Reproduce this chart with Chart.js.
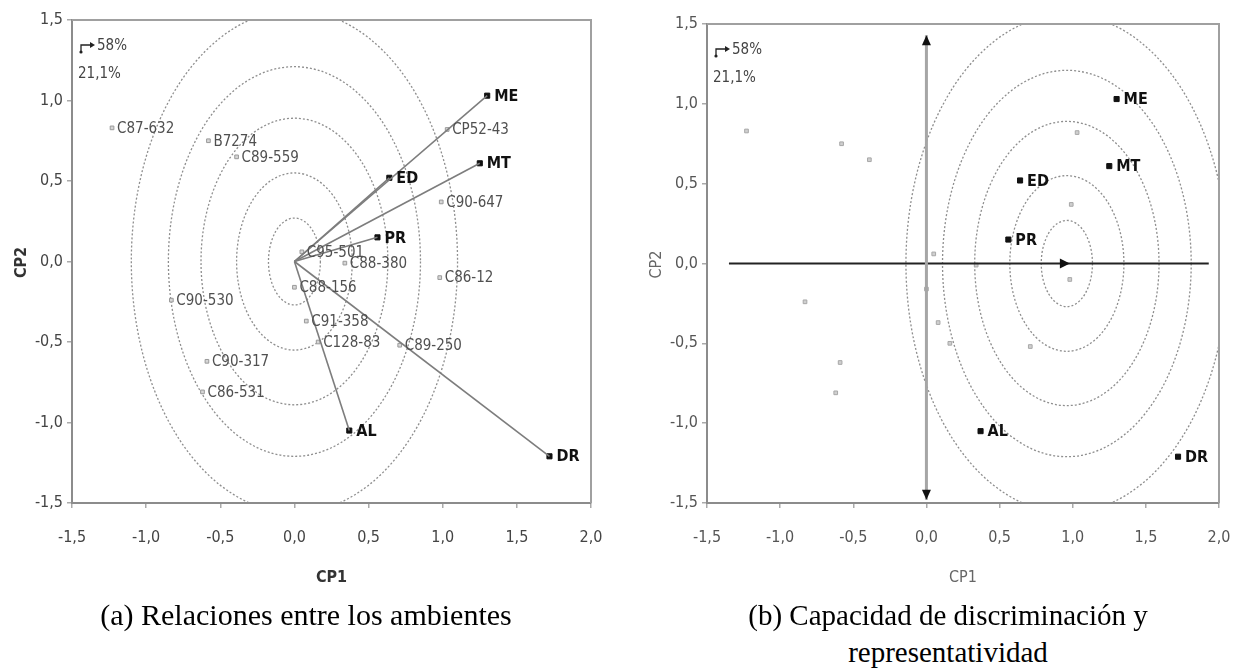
<!DOCTYPE html>
<html>
<head>
<meta charset="utf-8">
<script src="https://cdn.jsdelivr.net/npm/chart.js@4.4.1/dist/chart.umd.min.js"></script>
<style>
  body { margin:0; background:#fff; width:1233px; height:668px; overflow:hidden; position:relative; }
  .panel { position:absolute; top:0; height:600px; }
  #pa { left:0; width:616px; }
  #pb { left:616px; width:617px; }
  .cap { position:absolute; font-family:'Liberation Serif','Times New Roman',serif; font-size:29px;
         color:#000; white-space:nowrap; transform:translate(-50%,-50%); line-height:1; }
</style>
</head>
<body>
<div class="panel" id="pa"><canvas id="chartA"></canvas></div>
<div class="panel" id="pb"><canvas id="chartB"></canvas></div>
<div class="cap" style="left:306px;top:615px;font-size:30px;">(a) Relaciones entre los ambientes</div>
<div class="cap" style="left:948px;top:615px;">(b) Capacidad de discriminación y</div>
<div class="cap" style="left:948px;top:652px;">representatividad</div>
<script>
// genotypes (grey points)
const genotypes = ['C87-632','B7274','C89-559','CP52-43','C90-647','C86-12','C95-501','C88-380',
                   'C88-156','C91-358','C128-83','C89-250','C90-530','C90-317','C86-531'];
const genoX = [-1.23,-0.58,-0.39,1.03,0.99,0.98,0.05,0.34,0.00,0.08,0.16,0.71,-0.83,-0.59,-0.62];
const genoY = [0.83,0.75,0.65,0.82,0.37,-0.10,0.06,-0.01,-0.16,-0.37,-0.50,-0.52,-0.24,-0.62,-0.81];

// environments (black points)
const environments = ['ME','MT','ED','PR','AL','DR'];
const envX = [1.30,1.25,0.64,0.56,0.37,1.72];
const envY = [1.03,0.61,0.52,0.15,-1.05,-1.21];

// concentric rings (semi-axes in axis units)
const ringRX = [0.175,0.39,0.63,0.85,1.10];
const ringRY = [0.27,0.55,0.89,1.21,1.56];
const ringCenterA = [0, 0];
const ringCenterB = [0.96, 0];

// panel b: average environment axis and its perpendicular
const aeaLineX = [-1.35, 1.93];
const aeaArrowX = 0.96;
const ordLineY = [-1.48, 1.43];

const xTicks = [-1.5,-1.0,-0.5,0.0,0.5,1.0,1.5,2.0];
const yTicks = [-1.5,-1.0,-0.5,0.0,0.5,1.0,1.5];
const pctLabels = ['58%','21,1%'];

const NARROW = "'Liberation Sans Narrow','Arial Narrow','DejaVu Sans Condensed',sans-serif";
const fmt = v => v.toFixed(1).replace('.', ',');

function pts(xs, ys) {
  return xs.map((v, i) => ({x: v, y: ys[i]}));
}

function ringsPlugin(center) {
  return {
    id: 'rings',
    beforeDatasetsDraw(chart) {
      const {ctx, chartArea: a, scales: {x, y}} = chart;
      ctx.save();
      ctx.beginPath();
      ctx.rect(a.left, a.top, a.right - a.left, a.bottom - a.top);
      ctx.clip();
      ctx.strokeStyle = '#8e8e8e';
      ctx.lineWidth = 1.3;
      ctx.setLineDash([2, 2]);
      const px = x.getPixelForValue(center[0]);
      const py = y.getPixelForValue(center[1]);
      ringRX.forEach((r, i) => {
        const rx = x.getPixelForValue(center[0] + r) - px;
        const ry = py - y.getPixelForValue(center[1] + ringRY[i]);
        ctx.beginPath();
        ctx.ellipse(px, py, rx, ry, 0, 0, Math.PI * 2);
        ctx.stroke();
      });
      ctx.restore();
    }
  };
}

function decorPlugin(opt) {
  return {
    id: 'decor',
    afterDatasetsDraw(chart) {
      const {ctx, chartArea: a, scales: {x, y}} = chart;
      ctx.save();
      // top and right frame
      ctx.strokeStyle = '#a0a0a0';
      ctx.lineWidth = 2;
      ctx.beginPath();
      ctx.moveTo(a.left, a.top); ctx.lineTo(a.right, a.top); ctx.lineTo(a.right, a.bottom);
      ctx.stroke();

      ctx.textBaseline = 'middle';
      ctx.textAlign = 'left';
      if (opt.genoLabels) {
        ctx.fillStyle = '#505050';
        ctx.font = '15px ' + NARROW;
        genotypes.forEach((g, i) => {
          ctx.fillText(g, x.getPixelForValue(genoX[i]) + 5, y.getPixelForValue(genoY[i]) + 1);
        });
      }
      ctx.fillStyle = '#111';
      ctx.font = 'bold 16px ' + NARROW;
      environments.forEach((e, i) => {
        ctx.fillText(e, x.getPixelForValue(envX[i]) + 7, y.getPixelForValue(envY[i]) + 1);
      });

      // arrow heads for panel b
      if (opt.arrows) {
        ctx.fillStyle = '#111';
        const tx = x.getPixelForValue(aeaArrowX), ty = y.getPixelForValue(0);
        ctx.beginPath(); ctx.moveTo(tx + 3, ty); ctx.lineTo(tx - 7, ty - 5); ctx.lineTo(tx - 7, ty + 5); ctx.fill();
        const vx = x.getPixelForValue(0);
        const top = y.getPixelForValue(ordLineY[1]), bot = y.getPixelForValue(ordLineY[0]);
        ctx.beginPath(); ctx.moveTo(vx, top); ctx.lineTo(vx - 4.5, top + 10); ctx.lineTo(vx + 4.5, top + 10); ctx.fill();
        ctx.beginPath(); ctx.moveTo(vx, bot); ctx.lineTo(vx - 4.5, bot - 10); ctx.lineTo(vx + 4.5, bot - 10); ctx.fill();
      }

      // explained variance note
      const lx = a.left, ly = a.top;
      ctx.strokeStyle = '#222'; ctx.fillStyle = '#222'; ctx.lineWidth = 1.3;
      ctx.beginPath(); ctx.moveTo(lx + 9, ly + 32); ctx.lineTo(lx + 9, ly + 25); ctx.lineTo(lx + 19, ly + 25); ctx.stroke();
      ctx.beginPath(); ctx.moveTo(lx + 23, ly + 25); ctx.lineTo(lx + 18, ly + 22); ctx.lineTo(lx + 18, ly + 28); ctx.fill();
      ctx.beginPath(); ctx.arc(lx + 9, ly + 32, 1.6, 0, Math.PI * 2); ctx.fill();
      ctx.fillStyle = '#444';
      ctx.font = '15px ' + NARROW;
      ctx.fillText(pctLabels[0], lx + 25, ly + 26);
      ctx.fillText(pctLabels[1], lx + 6, ly + 54);

      // axis titles
      ctx.fillStyle = opt.titleColor;
      ctx.font = (opt.titleBold ? 'bold ' : '') + '16px ' + NARROW;
      ctx.textAlign = 'center';
      ctx.fillText('CP1', (a.left + a.right) / 2, 578);
      ctx.translate(a.left - 50, (a.top + a.bottom) / 2 + 1);
      ctx.rotate(-Math.PI / 2);
      ctx.fillText('CP2', 0, 0);
      ctx.restore();
    }
  };
}

function scalesCfg(yWidth, tickColor) {
  const common = {
    type: 'linear',
    grid: {drawOnChartArea: false, tickLength: 5, tickColor: '#aaa', lineWidth: 1.5},
    border: {color: '#8c8c8c', width: 2}
  };
  return {
    x: Object.assign({}, common, {
      min: xTicks[0], max: xTicks[xTicks.length - 1],
      afterBuildTicks: s => { s.ticks = xTicks.map(v => ({value: v})); },
      ticks: {callback: fmt, color: tickColor, font: {family: NARROW, size: 16}, padding: 20,
              maxRotation: 0, autoSkip: false},
      afterFit: s => { s.height = 97; s.paddingLeft = 0; s.paddingRight = 0; }
    }),
    y: Object.assign({}, common, {
      min: yTicks[0], max: yTicks[yTicks.length - 1],
      afterBuildTicks: s => { s.ticks = yTicks.map(v => ({value: v})); },
      ticks: {callback: fmt, color: tickColor, font: {family: NARROW, size: 16}, padding: 4, autoSkip: false},
      afterFit: s => { s.width = yWidth; s.paddingTop = 0; s.paddingBottom = 0; }
    })
  };
}

function genoSet(color, border) {
  return {type: 'scatter', data: pts(genoX, genoY), pointStyle: 'rect', pointRadius: 2.6,
          backgroundColor: color, borderColor: border, borderWidth: 1};
}
function envSet() {
  return {type: 'scatter', data: pts(envX, envY), pointStyle: 'rect', pointRadius: 3.6,
          backgroundColor: '#111', borderColor: '#111', borderWidth: 1};
}

// panel (a): vectors from origin
const vectorSets = environments.map((e, i) => ({
  type: 'line', data: [{x: 0, y: 0}, {x: envX[i], y: envY[i]}],
  borderColor: '#7d7d7d', borderWidth: 1.6, pointRadius: 0, fill: false
}));

new Chart(document.getElementById('chartA'), {
  type: 'scatter',
  data: {datasets: [...vectorSets, genoSet('#d6d6d6', '#9a9a9a'), envSet()]},
  options: {
    responsive: true, maintainAspectRatio: false, animation: false,
    layout: {padding: {top: 20, right: 25, left: 0, bottom: 0}},
    plugins: {legend: {display: false}, tooltip: {enabled: false}},
    scales: scalesCfg(72, '#444')
  },
  plugins: [ringsPlugin(ringCenterA), decorPlugin({genoLabels: true, titleBold: true, titleColor: '#333'})]
});

new Chart(document.getElementById('chartB'), {
  type: 'scatter',
  data: {datasets: [
    {type: 'line', data: [{x: 0, y: ordLineY[0]}, {x: 0, y: ordLineY[1]}],
     borderColor: '#a6a6a6', borderWidth: 3, pointRadius: 0},
    {type: 'line', data: [{x: aeaLineX[0], y: 0}, {x: aeaLineX[1], y: 0}],
     borderColor: '#222', borderWidth: 1.8, pointRadius: 0},
    genoSet('#cfcfcf', '#a8a8a8'),
    envSet()
  ]},
  options: {
    responsive: true, maintainAspectRatio: false, animation: false,
    layout: {padding: {top: 24, right: 14, left: 0, bottom: 0}},
    plugins: {legend: {display: false}, tooltip: {enabled: false}},
    scales: scalesCfg(91, '#555')
  },
  plugins: [ringsPlugin(ringCenterB), decorPlugin({genoLabels: false, arrows: true, titleBold: false, titleColor: '#666'})]
});
</script>
</body>
</html>
